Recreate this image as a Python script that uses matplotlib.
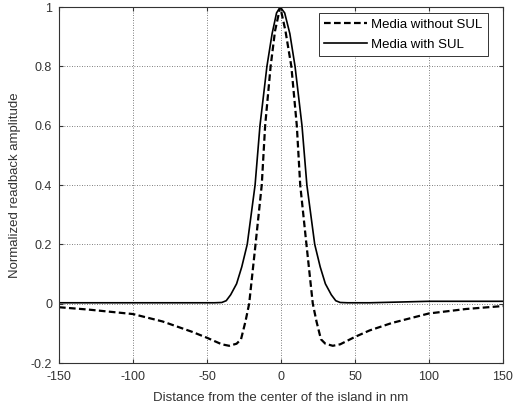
import matplotlib
matplotlib.use("Agg")
import matplotlib.pyplot as plt

plt.rcParams['font.family'] = ['Liberation Sans', 'DejaVu Sans']
plt.rcParams['axes.unicode_minus'] = False

# Media without SUL (dashed)
x_dash = [-150, -130, -100, -80, -60, -50, -40, -35, -30, -27, -24, -21.5, -17.2, -13,
          -10.7, -7, -4, -0.5, 3, 7, 10.7, 13, 17.2, 21.5, 24, 27, 30, 35, 40, 50,
          60, 75, 100, 125, 150]
y_dash = [-0.012, -0.02, -0.035, -0.06, -0.095, -0.115, -0.137, -0.142, -0.135, -0.12,
          -0.06, 0.0, 0.2, 0.4, 0.6, 0.8, 0.92, 1.0, 0.92, 0.8, 0.6, 0.4, 0.2, 0.0,
          -0.06, -0.12, -0.135, -0.142, -0.137, -0.112, -0.09, -0.065, -0.033,
          -0.018, -0.008]

# Media with SUL (solid)
x_sol = [-150, -100, -60, -45, -40, -37, -34, -30, -26.5, -22.8, -17.5, -14.2, -9.5,
         -6, -3, -0.5, 2.5, 6, 9.5, 14.2, 17.5, 22.8, 26.5, 30, 34, 37, 40, 45, 60,
         100, 150]
y_sol = [0.003, 0.003, 0.003, 0.003, 0.004, 0.01, 0.03, 0.067, 0.124, 0.2, 0.4, 0.6,
         0.8, 0.91, 0.98, 1.0, 0.98, 0.91, 0.8, 0.6, 0.4, 0.2, 0.124, 0.067, 0.03,
         0.01, 0.004, 0.003, 0.003, 0.008, 0.008]

x_ticks = [-150, -100, -50, 0, 50, 100, 150]
y_ticks = [-0.2, 0, 0.2, 0.4, 0.6, 0.8, 1]
y_tick_labels = ['-0.2', '0', '0.2', '0.4', '0.6', '0.8', '1']

fig = plt.figure(figsize=(5.25, 4.05), dpi=100)
ax = fig.add_axes([0.1124, 0.1037, 0.8456, 0.879])

ax.plot(x_dash, y_dash, color='black', linestyle=(0, (3.0, 1.5)), linewidth=1.6,
        label='Media without SUL')
ax.plot(x_sol, y_sol, color='black', linestyle='-', linewidth=1.2,
        label='Media with SUL')

ax.set_xlim(-150, 150)
ax.set_ylim(-0.2, 1)
ax.set_xticks(x_ticks)
ax.set_yticks(y_ticks)
ax.set_yticklabels(y_tick_labels)
ax.grid(True, color='#555555', linestyle=(0, (1, 2)), linewidth=0.6)
ax.tick_params(direction='in', top=True, right=True, labelsize=9, length=3,
               colors='#333333', labelcolor='#333333')
ax.tick_params(axis='x', pad=6)
ax.tick_params(axis='y', pad=5)
for s in ax.spines.values():
    s.set_color('#333333')
    s.set_linewidth(0.8)

ax.set_xlabel('Distance from the center of the island in nm', fontsize=9.5,
              color='#333333', labelpad=6)
ax.set_ylabel('Normalized readback amplitude', fontsize=9.5, color='#333333',
              labelpad=7)

leg = ax.legend(loc='upper right', bbox_to_anchor=(0.966, 0.983), borderaxespad=0,
                fontsize=9.5, fancybox=False, framealpha=1, edgecolor='#333333',
                handlelength=3.3, handletextpad=0.3, borderpad=0.4,
                labelspacing=0.6)
leg.get_frame().set_linewidth(0.7)

fig.savefig('out.png', dpi=100)
